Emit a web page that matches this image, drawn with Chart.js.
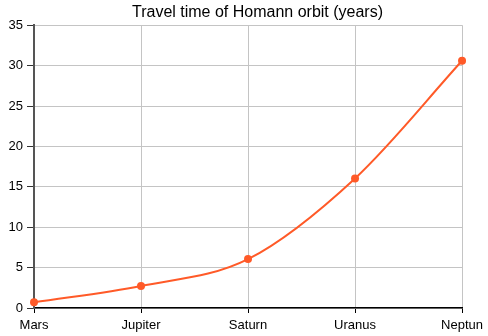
<!DOCTYPE html>
<html>
<head>
<meta charset="utf-8">
<script src="https://cdn.jsdelivr.net/npm/chart.js@4/dist/chart.umd.min.js"></script>
<style>
  html, body { margin: 0; padding: 0; background: #fff; }
  #wrap { width: 488px; height: 336px; }
</style>
</head>
<body>
<div id="wrap"><canvas id="chart" width="488" height="336"></canvas></div>
<script>
const planets = ["Mars", "Jupiter", "Saturn", "Uranus", "Neptun"];
const travelYears = [0.71, 2.73, 6.05, 16.04, 30.6];
const yTicks = [0, 5, 10, 15, 20, 25, 30, 35];

const orange = "#ff5a28";
const font = "Liberation Sans, Arial, sans-serif";

// shift the title a bit to the right like in the original
const titleShift = {
  id: "titleShift",
  afterLayout(chart) {
    chart.titleBlock.left += 26;
    chart.titleBlock.right += 26;
  },
};

const context = document.querySelector("#chart").getContext("2d");
const chart = new Chart(context, {
  type: "line",
  data: {
    labels: planets,
    datasets: [
      {
        label: "Travel time",
        data: travelYears,
        borderColor: orange,
        backgroundColor: orange,
        borderWidth: 2,
        pointRadius: 4,
        pointBorderWidth: 0,
        fill: false,
        cubicInterpolationMode: "monotone",
      },
    ],
  },
  options: {
    responsive: false,
    animation: false,
    layout: { padding: { left: 0, right: 25, top: 0, bottom: 0 } },
    plugins: {
      legend: { display: false },
      tooltip: { enabled: false },
      title: {
        display: true,
        text: "Travel time of Homann orbit (years)",
        color: "#000",
        font: { family: font, size: 16, weight: "normal", lineHeight: 1.2 },
        padding: { top: 3, bottom: 3 },
      },
    },
    scales: {
      x: {
        type: "category",
        offset: false,
        grid: { color: "#c4c4c4", tickColor: "#000", tickLength: 5 },
        border: { color: "#000", width: 1.5 },
        ticks: {
          color: "#000",
          padding: 5,
          maxRotation: 0,
          font: { family: font, size: 13 },
        },
        afterFit: (scale) => {
          scale.height = 28;
        },
      },
      y: {
        min: yTicks[0],
        max: yTicks[yTicks.length - 1],
        afterBuildTicks: (scale) => {
          scale.ticks = yTicks.map((v) => ({ value: v }));
        },
        grid: { color: "#c4c4c4", tickColor: "#333", tickLength: 7 },
        border: { color: "#555", width: 2 },
        ticks: {
          color: "#000",
          padding: 4,
          font: { family: font, size: 13 },
        },
        afterFit: (scale) => {
          scale.width = 34;
        },
      },
    },
  },
  plugins: [titleShift],
});
</script>
</body>
</html>
